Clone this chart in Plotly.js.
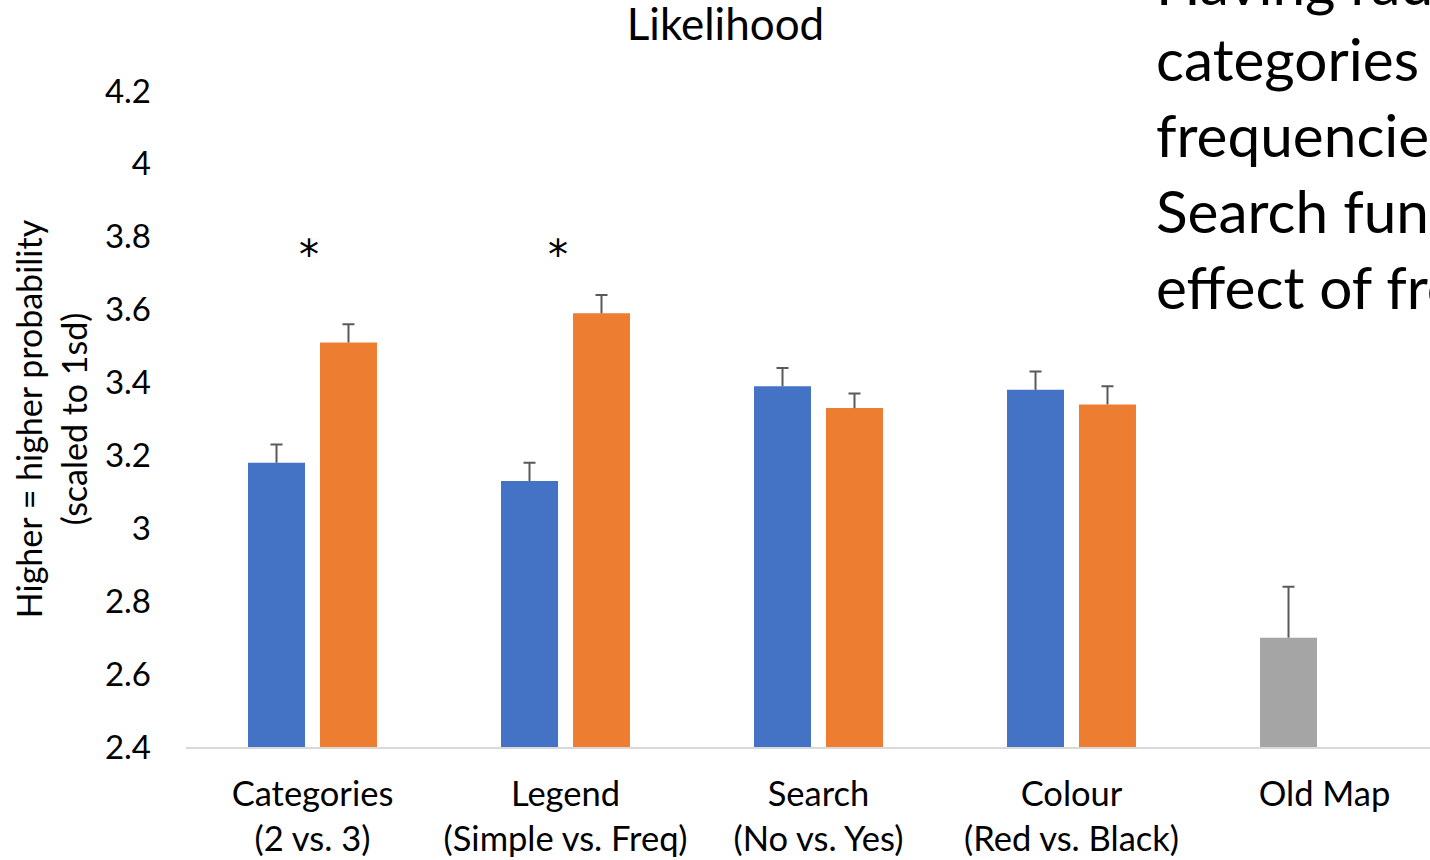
<!DOCTYPE html>
<html>
<head>
<meta charset="utf-8">
<script src="https://cdn.plot.ly/plotly-3.0.1.min.js"></script>
<style>
  html, body { margin: 0; padding: 0; overflow: hidden; background: #fff; }
  #chart { width: 1451px; height: 860px; }
</style>
</head>
<body>
<div id="chart"></div>
<script>
// Group labels along the x axis
const categories = [
  'Categories<br>(2 vs. 3)',
  'Legend<br>(Simple vs. Freq)',
  'Search<br>(No vs. Yes)',
  'Colour<br>(Red vs. Black)',
  'Old Map'
];

// First condition of each pair (Old Map sits in this slot, drawn grey)
const firstValues = [3.18, 3.13, 3.39, 3.38, 2.70];
const firstErrors = [0.05, 0.05, 0.05, 0.05, 0.14];

// Second condition of each pair (none for Old Map)
const secondValues = [3.51, 3.59, 3.33, 3.34, null];
const secondErrors = [0.05, 0.05, 0.04, 0.05, null];

// Significance markers: which groups carry an asterisk
const starGroups = [0, 1];
const starLevel = 3.75;

// Side note lines
const noteLines = [
  'Having radio buttons',
  'categories and',
  'frequencies in the legend,',
  'Search function had no',
  'effect of frequencies'
];

const FONT = 'Lato, "Open Sans", sans-serif';
const BLUE = '#4472C4', ORANGE = '#ED7D31', GREY = '#A5A5A5';
const ERR = '#595959';

const firstColors = firstValues.map((v, i) => i === categories.length - 1 ? GREY : BLUE);

// Upper end of each error bar
const tops = (vals, errs) => vals.map((v, i) => (v == null || errs[i] == null) ? null : v + errs[i]);

// Bars with a plain upward whisker (no caps)
function barTrace(vals, errs, color, group) {
  return {
    type: 'bar', x: categories, y: vals, offsetgroup: group,
    marker: { color: color },
    error_y: { type: 'data', symmetric: false, array: errs,
      arrayminus: errs.map(() => 0), color: ERR, thickness: 2, width: 0 }
  };
}

// Transparent companion bars whose zero-length error bar draws the cap
function capTrace(vals, errs, group) {
  const y = tops(vals, errs);
  return {
    type: 'bar', x: categories, y: y, offsetgroup: group,
    marker: { color: 'rgba(0,0,0,0)', line: { width: 0 } },
    error_y: { type: 'data', symmetric: true, array: y.map(() => 0),
      color: ERR, thickness: 2, width: 6 }
  };
}

const traces = [
  barTrace(firstValues, firstErrors, firstColors, 'a'),
  barTrace(secondValues, secondErrors, ORANGE, 'b'),
  capTrace(firstValues, firstErrors, 'a'),
  capTrace(secondValues, secondErrors, 'b')
];

const starShift = [-4, -8];
const annotations = starGroups.map((i, k) => ({
  xref: 'x', yref: 'y', x: categories[i], y: starLevel,
  text: '*', showarrow: false, xshift: starShift[k],
  font: { family: '"DejaVu Sans", sans-serif', size: 40, color: '#000' }
}));

const noteTop = -18, noteStep = 76;
noteLines.forEach((t, k) => {
  annotations.push({
    xref: 'paper', yref: 'paper',
    x: (1155 - 186) / (1451 - 186), xanchor: 'left', xshift: -1,
    y: 1 + (91 - (noteTop + k * noteStep)) / 656, yanchor: 'middle',
    text: t, showarrow: false, align: 'left',
    font: { family: FONT, size: 58.5, color: '#000' }
  });
});

const layout = {
  width: 1451, height: 860,
  margin: { l: 186, r: 0, t: 91, b: 113 },
  paper_bgcolor: '#fff', plot_bgcolor: '#fff',
  showlegend: false,
  barmode: 'group', bargap: 0.431, bargroupgap: 0.208,
  font: { family: FONT, color: '#000' },
  title: {
    text: 'Likelihood', xref: 'container', x: 0.5, xanchor: 'center',
    yref: 'container', y: 1 - 25 / 860, yanchor: 'middle',
    font: { family: FONT, size: 44, color: '#000' }
  },
  xaxis: {
    type: 'category', range: [-0.5, 4.5],
    showline: true, linecolor: '#D9D9D9', linewidth: 2,
    showgrid: false, zeroline: false, ticks: '',
    ticklabelstandoff: 16,
    tickfont: { family: FONT, size: 34.5, color: '#000' }
  },
  yaxis: {
    range: [2.4, 4.2], tickvals: [2.4, 2.6, 2.8, 3, 3.2, 3.4, 3.6, 3.8, 4, 4.2],
    ticktext: ['2.4', '2.6', '2.8', '3', '3.2', '3.4', '3.6', '3.8', '4', '4.2'],
    showgrid: false, zeroline: false, showline: false, ticks: '',
    ticklabelstandoff: 34,
    tickfont: { family: FONT, size: 33, color: '#000' },
    title: {
      text: 'Higher = higher probability<br>(scaled to 1sd)',
      standoff: 7,
      font: { family: FONT, size: 34, color: '#000' }
    }
  },
  annotations: annotations
};

Plotly.newPlot('chart', traces, layout, { displayModeBar: false, staticPlot: true });
</script>
</body>
</html>
